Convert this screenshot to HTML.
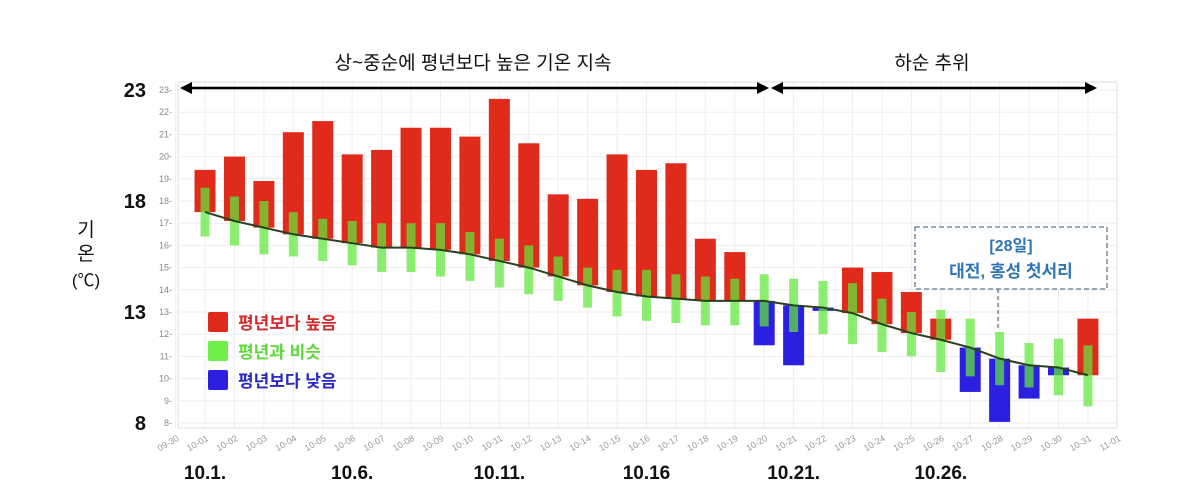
<!DOCTYPE html>
<html><head><meta charset="utf-8">
<style>
body{margin:0;background:#fff;width:1200px;height:500px;overflow:hidden;font-family:"Liberation Sans","Noto Sans CJK KR",sans-serif;}
svg{display:block}
</style></head>
<body>
<svg id="chart" width="1200" height="500" xmlns="http://www.w3.org/2000/svg"></svg>
<script>
const days = ["10-01","10-02","10-03","10-04","10-05","10-06","10-07","10-08","10-09","10-10","10-11","10-12","10-13","10-14","10-15","10-16","10-17","10-18","10-19","10-20","10-21","10-22","10-23","10-24","10-25","10-26","10-27","10-28","10-29","10-30","10-31"];
const actual = [19.4,20.0,18.9,21.1,21.6,20.1,20.3,21.3,21.3,20.9,22.6,20.6,18.3,18.1,20.1,19.4,19.7,16.3,15.7,11.5,10.6,13.05,15.0,14.8,13.9,12.7,9.4,8.05,9.1,10.15,12.7];
const normalAvg = [17.5,17.1,16.8,16.5,16.3,16.1,15.9,15.9,15.8,15.6,15.3,15.0,14.6,14.2,13.9,13.7,13.6,13.5,13.5,13.5,13.3,13.2,12.95,12.45,12.05,11.75,11.4,10.9,10.6,10.5,10.15];
const normalLow = [16.4,16.0,15.6,15.5,15.3,15.1,14.8,14.8,14.6,14.4,14.1,13.8,13.5,13.2,12.8,12.6,12.5,12.4,12.4,12.35,12.1,12.0,11.55,11.2,11.0,10.3,10.1,9.7,9.6,9.25,8.75];
const normalHigh = [18.6,18.2,18.0,17.5,17.2,17.1,17.0,17.0,17.0,16.6,16.3,16.0,15.5,15.0,14.9,14.9,14.7,14.6,14.5,14.7,14.5,14.4,14.3,13.6,13.0,13.1,12.7,12.1,11.6,11.8,11.5];
const xTicks = ["09-30","10-01","10-02","10-03","10-04","10-05","10-06","10-07","10-08","10-09","10-10","10-11","10-12","10-13","10-14","10-15","10-16","10-17","10-18","10-19","10-20","10-21","10-22","10-23","10-24","10-25","10-26","10-27","10-28","10-29","10-30","10-31","11-01"];
const yTicks = [8,9,10,11,12,13,14,15,16,17,18,19,20,21,22,23];
const bigY = [23,18,13,8];
const bigX = [["10.1.",1],["10.6.",6],["10.11.",11],["10.16",16],["10.21.",21],["10.26.",26]];

const NS="http://www.w3.org/2000/svg";
const svg=document.getElementById('chart');
const x=i=>175.6+29.43*i;
const y=v=>90+(23-v)*22.2;
function mk(tag,attrs,parent){const e=document.createElementNS(NS,tag);for(const k in attrs)e.setAttribute(k,attrs[k]);(parent||svg).appendChild(e);return e;}

// plot frame
let f=mk('rect',{x:178,y:82,width:939,height:346,fill:'#fff',stroke:'#ddd','stroke-width':1});


const grid=mk('g',{stroke:'#eee','stroke-width':1});


xTicks.forEach((t,i)=>{mk('line',{x1:x(i),x2:x(i),y1:82,y2:428},grid);});
yTicks.forEach(v=>{mk('line',{x1:178,x2:1117,y1:y(v),y2:y(v)},grid);});

// y tick labels
yTicks.forEach(v=>{
  const t=mk('text',{x:172,y:y(v)+3,'font-size':9,fill:'#888','text-anchor':'end'});
  t.textContent=v+'-';
  
  
});
// x tick labels
xTicks.forEach((s,i)=>{
  const t=mk('text',{x:x(i)+4,y:440,'font-size':9,fill:'#999','text-anchor':'end',transform:`rotate(-30 ${x(i)+4} 440)`});
  t.textContent=s;
  
  
});

// anomaly bars
days.forEach((d,j)=>{
  const i=j+1, a=actual[j], n=normalAvg[j];
  const up=a>=n;
  const r=mk('rect',{x:x(i)-10.5,y:y(Math.max(a,n)),width:21,height:Math.max(1.5,Math.abs(y(a)-y(n))),fill:up?'#e02a1c':'#2b1fe0'});
  
  
});
// normal range bars
days.forEach((d,j)=>{
  const i=j+1;
  const r=mk('rect',{x:x(i)-4.5,y:y(normalHigh[j]),width:9,height:y(normalLow[j])-y(normalHigh[j]),fill:'#5fe83a','fill-opacity':0.72});
  
  
});
// normal average line
let pd='';
days.forEach((d,j)=>{pd+=(j?'L':'M')+x(j+1)+','+y(normalAvg[j]);});
const ln=mk('path',{d:pd,fill:'none',stroke:'#2a4020','stroke-width':2});



// arrows
const arr=mk('g',{stroke:'#000','stroke-width':2.5,fill:'#000'});


mk('line',{x1:188,y1:88,x2:760,y2:88},arr);
mk('line',{x1:780,y1:88,x2:1088,y2:88},arr);
mk('polygon',{points:'180,88 192,82 192,94',stroke:'none'},arr);
mk('polygon',{points:'769,88 757,82 757,94',stroke:'none'},arr);
mk('polygon',{points:'771,88 783,82 783,94',stroke:'none'},arr);
mk('polygon',{points:'1097,88 1085,82 1085,94',stroke:'none'},arr);
let t1=mk('text',{x:473,y:69,'font-size':19,'text-anchor':'middle',fill:'#111'});t1.textContent='상~중순에 평년보다 높은 기온 지속';


let t2=mk('text',{x:932,y:69,'font-size':19,'text-anchor':'middle',fill:'#111'});t2.textContent='하순 추위';



// big y labels
bigY.forEach(v=>{
  const t=mk('text',{x:146,y:y(v)+7,'font-size':20,'font-weight':'bold','text-anchor':'end',fill:'#111'});
  t.textContent=v;
  
  
});
// y axis title
const yt=mk('g',{'font-size':19,'text-anchor':'middle',fill:'#111'});


mk('text',{x:86,y:236},yt).textContent='기';
mk('text',{x:86,y:260},yt).textContent='온';
mk('text',{x:86,y:286,'font-size':17},yt).textContent='(℃)';
// big x labels
bigX.forEach(([s,i])=>{
  const t=mk('text',{x:x(i),y:479,'font-size':19,'font-weight':'bold','text-anchor':'middle',fill:'#111'});
  t.textContent=s;
  
  
});

// legend
const leg=[['#e02a1c','평년보다 높음','#d02a2a'],['#6ef048','평년과 비슷','#5ed83a'],['#2b1fe0','평년보다 낮음','#2a2ac0']];
leg.forEach(([c,s,tc],k)=>{
  const g=mk('g',{});
  
  
  mk('rect',{x:208,y:312+k*29,width:20,height:20,rx:2,fill:c},g);
  const t=mk('text',{x:238,y:329+k*29,'font-size':17,'font-weight':'bold',fill:tc},g);t.textContent=s;
});

// annotation
const an=mk('g',{});


mk('rect',{x:915,y:227,width:192,height:62,fill:'#fff','fill-opacity':0.85,stroke:'#5a7a96','stroke-width':1.3,'stroke-dasharray':'5,3'},an);
mk('line',{x1:998,y1:289,x2:998,y2:330,stroke:'#5a7a96','stroke-width':1.3,'stroke-dasharray':'4,3'},an);
mk('text',{x:1011,y:251,'font-size':16,'font-weight':'bold','text-anchor':'middle',fill:'#2e75b6'},an).textContent='[28일]';
mk('text',{x:1011,y:277,'font-size':17,'font-weight':'bold','text-anchor':'middle',fill:'#2e75b6'},an).textContent='대전, 홍성 첫서리';
</script>
</body></html>
